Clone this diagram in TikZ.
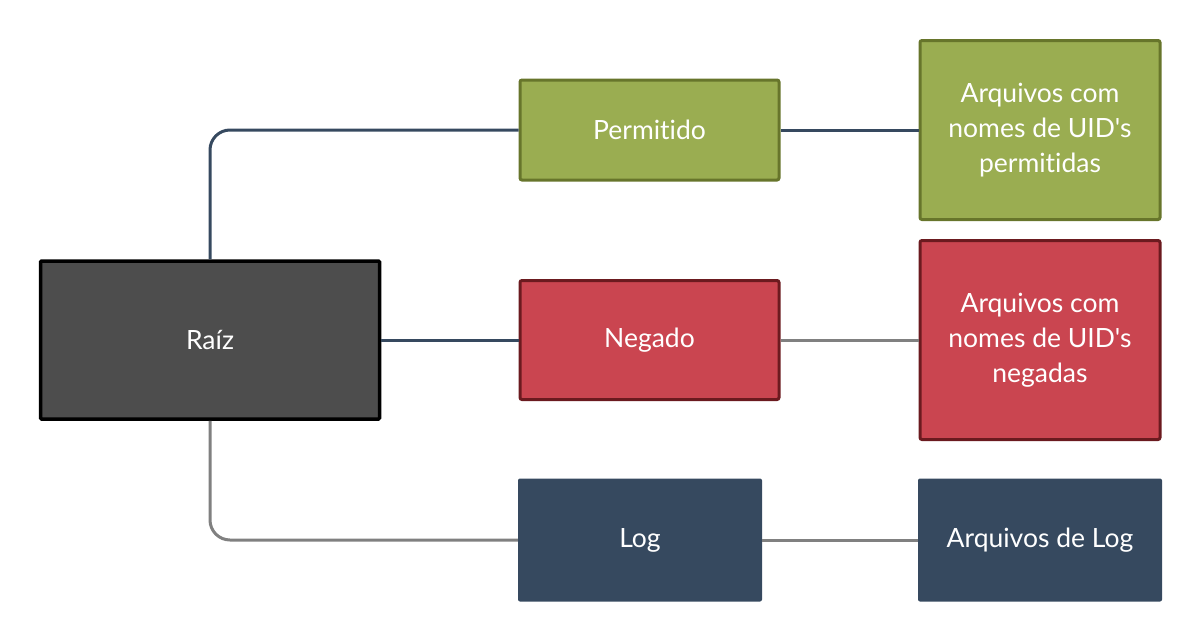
\documentclass[tikz,border=0pt]{standalone}
\usepackage{fontspec}
\newfontfamily\latofont{Lato}[Ligatures=NoCommon]
\definecolor{rootfill}{HTML}{4D4D4D}
\definecolor{greenfill}{HTML}{9AAD51}
\definecolor{greenline}{HTML}{67752B}
\definecolor{redfill}{HTML}{CA4550}
\definecolor{redline}{HTML}{6B1A1F}
\definecolor{navy}{HTML}{36495F}
\definecolor{linegray}{HTML}{808080}
\begin{document}
\begin{tikzpicture}[x=1pt,y=-1pt,
  box/.style={rectangle, rounded corners=2pt, text=white, align=center, inner sep=0pt,
    font=\latofont\fontsize{26.5}{35}\selectfont},
  rootbox/.style={box, fill=rootfill, draw=black, line width=3.5pt, rounded corners=1pt,
    minimum width=339pt, minimum height=158pt},
  greenbox/.style={box, fill=greenfill, draw=greenline, line width=3pt},
  redbox/.style={box, fill=redfill, draw=redline, line width=3pt},
  navybox/.style={box, fill=navy},
  navyconn/.style={draw=navy, line width=3pt},
  grayconn/.style={draw=linegray, line width=3pt},
]
\useasboundingbox (0,0) rectangle (1201,640);
\node[rootbox] (raiz) at (210,340) {Raíz};
\node[greenbox, minimum width=259pt, minimum height=100pt] (perm) at (649.5,130) {Permitido};
\node[greenbox, minimum width=240pt, minimum height=179pt] (aperm) at (1040,130) {Arquivos com\\nomes de UID's\\permitidas};
\node[redbox, minimum width=259pt, minimum height=119pt] (neg) at (649.5,340) {Negado};
\node[redbox, minimum width=240pt, minimum height=199pt] (aneg) at (1040,340) {Arquivos com\\nomes de UID's\\negadas};
\node[navybox, minimum width=244pt, minimum height=123pt] (log) at (640,540) {Log};
\node[navybox, minimum width=244pt, minimum height=123pt] (alog) at (1040,540) {Arquivos de Log};
\draw[navyconn, rounded corners=20pt] (raiz.north) |- (perm.west);
\draw[navyconn] (raiz.east) -- (neg.west);
\draw[grayconn, rounded corners=20pt] (raiz.south) |- (log.west);
\draw[navyconn] (perm.east) -- (aperm.west);
\draw[grayconn] (neg.east) -- (aneg.west);
\draw[grayconn] (log.east) -- (alog.west);
\end{tikzpicture}
\end{document}
